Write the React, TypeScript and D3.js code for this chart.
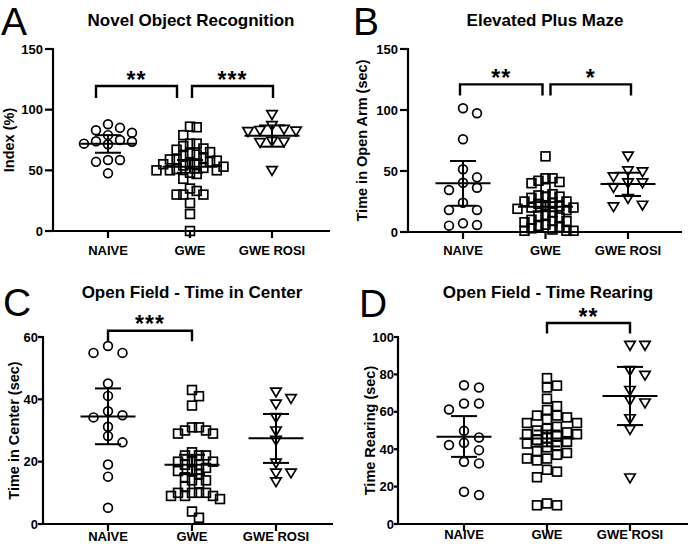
import React from "react";
import * as d3 from "d3";

const categories = ["NAIVE", "GWE", "GWE ROSI"];

// Panel A – Novel Object Recognition (Index %)
const norNaive = [88, 85, 83, 81, 79, 75, 74, 73.5, 72, 71.5, 58.5, 58.5, 57, 47.5];
const norGwe = [86, 85.5, 79, 72, 72, 70, 68, 67, 65, 64, 63, 62, 60, 59, 59, 58, 57, 56, 55, 55, 54, 53, 52, 51, 50, 50, 50, 48, 47, 43, 35, 33, 30, 30, 30, 23, 14, 0];
const norRosi = [96, 87, 84, 83, 82.5, 82, 74, 73.5, 73, 50];
const norMean = [72, 53, 78.5];
const norLow = [64.5, 48, 69.5];
const norHigh = [79, 58.5, 87];
const norTicks = [0, 50, 100, 150];

// Panel B – Elevated Plus Maze (sec)
const epmNaive = [101.4, 97.3, 76, 51.4, 44.8, 40.4, 36.3, 34.4, 24, 18, 18, 7.1, 5.7, 5.2];
const epmGwe = [62, 44, 44, 42, 41, 40, 36, 31, 30, 29, 29, 28, 25, 25, 24, 23, 22, 21, 20, 20, 19, 18, 16, 14, 13, 12, 10, 9, 9, 8, 6, 5, 4, 3, 2, 1, 1, 1];
const epmRosi = [62.3, 50.3, 49.4, 45.4, 40.4, 40.4, 36.6, 27.6, 22.1, 20.8];
const epmMean = [40, 20.7, 39.3];
const epmLow = [21.5, 17, 29.5];
const epmHigh = [58.2, 24.5, 48.6];
const epmTicks = [0, 50, 100, 150];

// Panel C – Open Field, time in center (sec)
const ctrNaive = [57.1, 54.9, 54.9, 45.1, 41.1, 36.2, 34.9, 34.2, 31.2, 28.2, 26.2, 19.1, 15.2, 5.2];
const ctrGwe = [43, 41, 38, 31, 31, 30, 30, 29, 29, 23, 22, 22, 22, 20, 20, 20, 19, 19, 18, 17, 17, 16, 15, 14, 14, 13, 12, 10, 10, 10, 10, 9, 9, 9, 8, 4, 2];
const ctrRosi = [42.4, 40.3, 38.5, 34.2, 29.9, 26.9, 19.6, 16.4, 16.4, 13.6];
const ctrMean = [34.5, 19, 27.5];
const ctrLow = [25.6, 16, 19.6];
const ctrHigh = [43.5, 22.2, 35.3];
const ctrTicks = [0, 20, 40, 60];

// Panel D – Open Field, time rearing (sec)
const rearNaive = [74.2, 73, 64.4, 64.4, 61.2, 49.8, 46.3, 43.4, 42.2, 39.5, 33.3, 32.4, 17.2, 15.5];
const rearGwe = [78, 74, 73, 67, 63, 61, 58, 58, 57, 56, 54, 54, 52, 51, 50, 49, 48, 48, 47, 46, 45, 44, 43, 42, 41, 39, 38, 37, 35, 35, 34, 29, 28, 25, 11, 10, 10];
const rearRosi = [95.6, 95.6, 82.2, 79.6, 71.5, 66.2, 64.8, 56.4, 50.6, 24.7];
const rearMean = [46.7, 45.7, 68.5];
const rearLow = [35.9, 41.5, 52.9];
const rearHigh = [57.7, 50, 84];
const rearTicks = [0, 20, 40, 60, 80, 100];

const FONT = "'Liberation Sans', Arial, Helvetica, sans-serif";

type Bracket = { a: number; b: number; label: string; top: number; dx0: number; dx1: number };

type PanelCfg = {
  letter: string; letterX: number; letterY: number;
  title: string; titleX: number; titleY: number;
  yLabel: string; yLabelX: number;
  axisX: number; yTop: number; yBottom: number; xEnd: number;
  cat0: number; cat1: number; yMax: number; ticks: number[];
  tickLen: number; labelGap: number; xLabelDy: number;
  steps: number[]; leg: number; starDy: number;
  groups: number[][]; mean: number[]; low: number[]; high: number[];
  brackets: Bracket[];
};

function swarm(values: number[], y: (v: number) => number, step: number, hy: number) {
  const sorted = [...values].sort((p, q) => q - p);
  const placed: { x: number; y: number; v: number }[] = [];
  for (const v of sorted) {
    const py = y(v);
    for (let i = 0; i < 60; i++) {
      const k = i === 0 ? 0 : (i % 2 === 1 ? (i + 1) / 2 : -i / 2);
      const dx = (k * step) / 2;
      const hit = placed.some((p) => Math.abs(p.y - py) < hy && Math.abs(p.x - dx) < step - 0.01);
      if (!hit) {
        placed.push({ x: dx, y: py, v });
        break;
      }
    }
  }
  return placed;
}

function Marker({ kind, x, y }: { kind: number; x: number; y: number }) {
  const sw = 1.7;
  if (kind === 0) return <circle cx={x} cy={y} r={4.4} fill="none" stroke="#000" strokeWidth={sw} />;
  if (kind === 1) return <rect x={x - 4.4} y={y - 4.4} width={8.8} height={8.8} fill="none" stroke="#000" strokeWidth={sw} />;
  const w = 5.2, h = 4.4;
  return <path d={`M${x - w},${y - h + 0.6}L${x + w},${y - h + 0.6}L${x},${y + h + 0.6}Z`} fill="none" stroke="#000" strokeWidth={sw} strokeLinejoin="miter" />;
}

function Panel({ c }: { c: PanelCfg }) {
  const y = d3.scaleLinear().domain([0, c.yMax]).range([c.yBottom, c.yTop]);
  const x = d3.scalePoint<string>().domain(categories).range([c.cat0, c.cat1]);
  const yMid = (c.yTop + c.yBottom) / 2;
  return (
    <g>
      <text x={c.letterX} y={c.letterY} fontFamily={FONT} fontSize={39} fill="#000">{c.letter}</text>
      <text x={c.titleX} y={c.titleY} fontFamily={FONT} fontSize={17} fontWeight="bold" textAnchor="middle" fill="#000">{c.title}</text>
      <text transform={`translate(${c.yLabelX},${yMid}) rotate(-90)`} fontFamily={FONT} fontSize={14.5} fontWeight="bold" textAnchor="middle" dominantBaseline="central" fill="#000">{c.yLabel}</text>
      {/* y axis */}
      <line x1={c.axisX} x2={c.axisX} y1={y(c.yMax) - 1} y2={c.yBottom + 1} stroke="#000" strokeWidth={2.2} />
      {c.ticks.map((t) => (
        <g key={t}>
          <line x1={c.axisX - c.tickLen} x2={c.axisX} y1={y(t)} y2={y(t)} stroke="#000" strokeWidth={2.2} />
          <text x={c.axisX - c.labelGap} y={y(t)} fontFamily={FONT} fontSize={13} fontWeight="bold" textAnchor="end" dominantBaseline="central" fill="#000">{t}</text>
        </g>
      ))}
      {/* x axis */}
      <line x1={c.axisX - 1} x2={c.xEnd} y1={c.yBottom} y2={c.yBottom} stroke="#000" strokeWidth={2.2} />
      {categories.map((cat) => (
        <g key={cat}>
          <line x1={x(cat)} x2={x(cat)} y1={c.yBottom} y2={c.yBottom + 7} stroke="#000" strokeWidth={2.2} />
          <text x={x(cat)} y={c.yBottom + c.xLabelDy} fontFamily={FONT} fontSize={13} fontWeight="bold" textAnchor="middle" fill="#000">{cat}</text>
        </g>
      ))}
      {/* points */}
      {c.groups.map((vals, gi) => {
        const cx = x(categories[gi]) as number;
        return swarm(vals, y, c.steps[gi], 8.5).map((p, i) => <Marker key={`${gi}-${i}`} kind={gi} x={cx + p.x} y={p.y} />);
      })}
      {/* mean and error bars */}
      {categories.map((cat, gi) => {
        const cx = x(cat) as number;
        return (
          <g key={`e${gi}`} stroke="#000" strokeWidth={2}>
            <line x1={cx} x2={cx} y1={y(c.low[gi])} y2={y(c.high[gi])} />
            <line x1={cx - 13} x2={cx + 13} y1={y(c.low[gi])} y2={y(c.low[gi])} />
            <line x1={cx - 13} x2={cx + 13} y1={y(c.high[gi])} y2={y(c.high[gi])} />
            <line x1={cx - 27.5} x2={cx + 27.5} y1={y(c.mean[gi])} y2={y(c.mean[gi])} />
          </g>
        );
      })}
      {/* significance brackets */}
      {c.brackets.map((b, i) => {
        const x0 = (x(categories[b.a]) as number) + b.dx0;
        const x1 = (x(categories[b.b]) as number) + b.dx1;
        const by = y(b.top);
        return (
          <g key={`b${i}`}>
            <path d={`M${x0},${by + c.leg}V${by}H${x1}V${by + c.leg}`} fill="none" stroke="#000" strokeWidth={2.4} />
            <text x={(x0 + x1) / 2} y={by - c.starDy} fontFamily={FONT} fontSize={23} fontWeight="bold" textAnchor="middle" letterSpacing={1} fill="#000">{b.label}</text>
          </g>
        );
      })}
    </g>
  );
}

export default function App() {
  const panels: PanelCfg[] = [
    {
      letter: "A", letterX: 1, letterY: 35, title: "Novel Object Recognition", titleX: 191, titleY: 26,
      yLabel: "Index (%)", yLabelX: 9, axisX: 53, yTop: 49, yBottom: 231, xEnd: 330, cat0: 108, cat1: 272,
      yMax: 150, ticks: norTicks, tickLen: 8, labelGap: 10, xLabelDy: 24, steps: [12, 6.7, 12], leg: 12, starDy: -2,
      groups: [norNaive, norGwe, norRosi], mean: norMean, low: norLow, high: norHigh,
      brackets: [
        { a: 0, b: 1, label: "**", top: 119.5, dx0: -12, dx1: -13 },
        { a: 1, b: 2, label: "***", top: 119.5, dx0: 2, dx1: 1 },
      ],
    },
    {
      letter: "B", letterX: 353, letterY: 35, title: "Elevated Plus Maze", titleX: 545, titleY: 26,
      yLabel: "Time in Open Arm (sec)", yLabelX: 362, axisX: 408, yTop: 49, yBottom: 232, xEnd: 682, cat0: 463, cat1: 628,
      yMax: 150, ticks: epmTicks, tickLen: 8, labelGap: 10, xLabelDy: 23, steps: [14, 7, 14.5], leg: 11, starDy: -2,
      groups: [epmNaive, epmGwe, epmRosi], mean: epmMean, low: epmLow, high: epmHigh,
      brackets: [
        { a: 0, b: 1, label: "**", top: 121, dx0: -3, dx1: -3 },
        { a: 1, b: 2, label: "*", top: 121, dx0: 5, dx1: 3 },
      ],
    },
    {
      letter: "C", letterX: 3, letterY: 316, title: "Open Field - Time in Center", titleX: 192, titleY: 298,
      yLabel: "Time in Center (sec)", yLabelX: 14, axisX: 43, yTop: 337, yBottom: 524, xEnd: 333, cat0: 108, cat1: 276,
      yMax: 60, ticks: ctrTicks, tickLen: 5, labelGap: 5, xLabelDy: 17, steps: [14.5, 7, 15], leg: 10.5, starDy: -1,
      groups: [ctrNaive, ctrGwe, ctrRosi], mean: ctrMean, low: ctrLow, high: ctrHigh,
      brackets: [{ a: 0, b: 1, label: "***", top: 62, dx0: 0, dx1: 0 }],
    },
    {
      letter: "D", letterX: 359, letterY: 317, title: "Open Field - Time Rearing", titleX: 548, titleY: 298,
      yLabel: "Time Rearing (sec)", yLabelX: 370, axisX: 398, yTop: 337, yBottom: 524, xEnd: 688, cat0: 464, cat1: 630,
      yMax: 100, ticks: rearTicks, tickLen: 4, labelGap: 4, xLabelDy: 15, steps: [15, 10, 15], leg: 10.5, starDy: -2,
      groups: [rearNaive, rearGwe, rearRosi], mean: rearMean, low: rearLow, high: rearHigh,
      brackets: [{ a: 1, b: 2, label: "**", top: 107.5, dx0: 0, dx1: 0 }],
    },
  ];
  return (
    <svg width={689} height={547} style={{ position: "absolute", left: 0, top: 0, background: "#fff" }}>
      <rect width={689} height={547} fill="#fff" />
      {panels.map((p) => <Panel key={p.letter} c={p} />)}
    </svg>
  );
}
